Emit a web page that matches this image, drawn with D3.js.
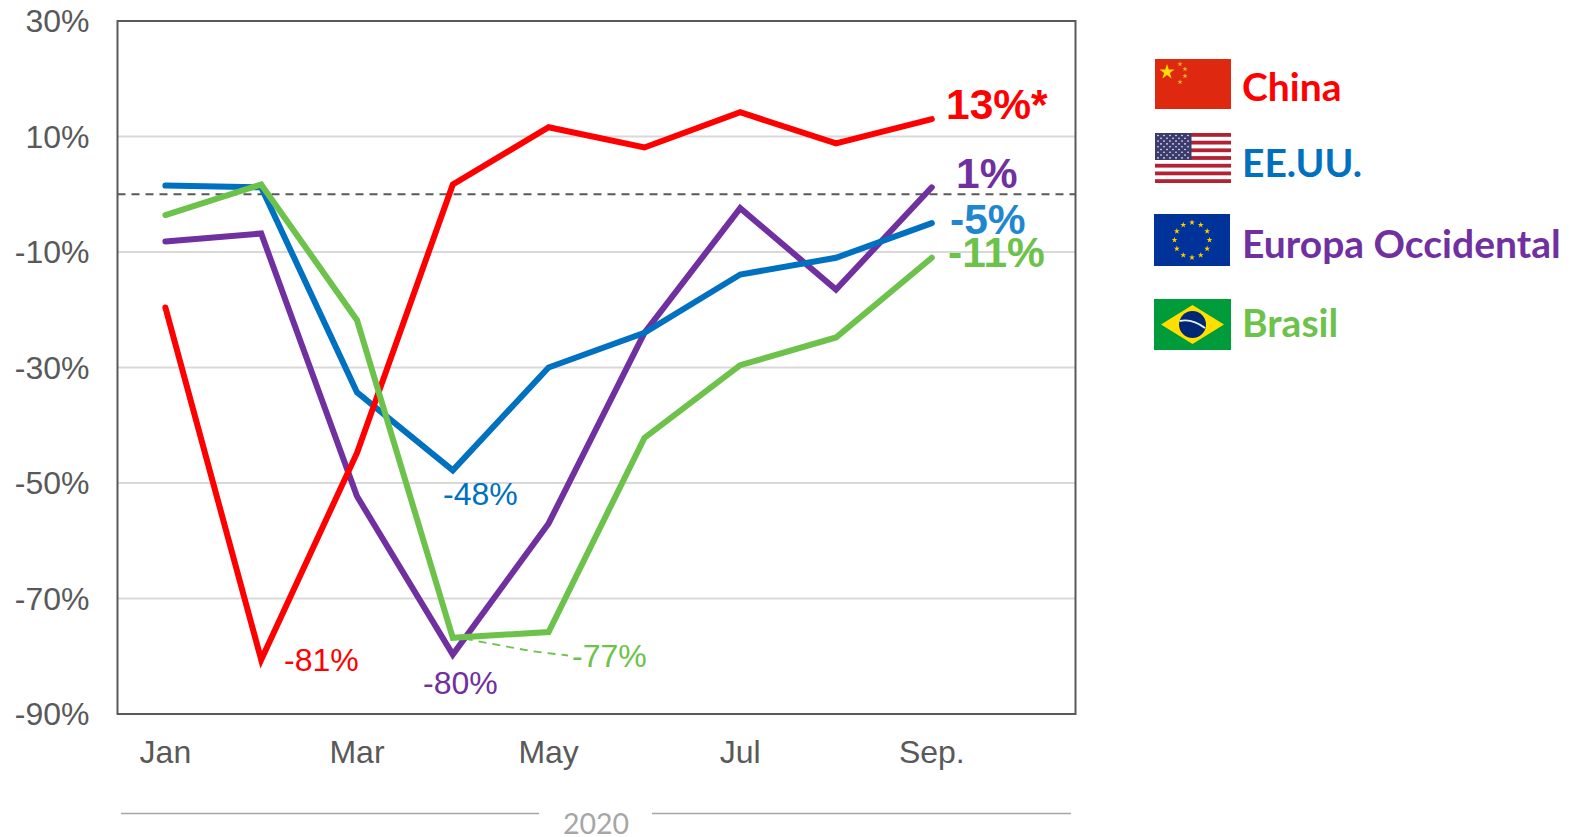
<!DOCTYPE html>
<html><head><meta charset="utf-8">
<script src="https://cdn.jsdelivr.net/npm/d3@7/dist/d3.min.js"></script>
<style>html,body{margin:0;padding:0;background:#fff;overflow:hidden}svg{display:block}</style>
</head><body><svg id="c" width="1570" height="837"></svg>
<script>
const months = ["Jan","Feb","Mar","Apr","May","Jun","Jul","Aug","Sep"];
const slots = [...months, "Oct"];
const monthTicks = ["Jan","Mar","May","Jul","Sep"];
const monthTickLabels = {Jan:"Jan",Mar:"Mar",May:"May",Jul:"Jul",Sep:"Sep."};
const yTicks = [30,10,-10,-30,-50,-70,-90];

const china  = [-19.6,-80.6,-44.8,1.7,11.6,8.1,14.2,8.8,13];
const usa    = [1.5,1.2,-34.3,-47.8,-30,-24,-13.9,-11,-5];
const europe = [-8.2,-6.8,-52.3,-79.7,-57,-24,-2.4,-16.5,1.2];
const brazil = [-3.6,1.7,-21.8,-76.8,-75.8,-42.2,-29.6,-24.8,-11];

const seriesNames = ["Europa Occidental","EE.UU.","China","Brasil"];
const seriesValues = [europe,usa,china,brazil];
const seriesColors = ["#7030a0","#0070c0","#ff0000","#6cc24a"];
const legendNames = ["China","EE.UU.","Europa Occidental","Brasil"];
const legendColors = ["#ff0000","#0070c0","#7030a0","#6cc24a"];

const svg = d3.select("#c");
const L=117.5,R=1075.5,T=21,B=714;
const x = d3.scaleBand().domain(slots).range([L,R]);
const cx = m => x(m)+x.bandwidth()/2;
const y = d3.scaleLinear().domain([-90,30]).range([B,T]);
const sans = "'Liberation Sans',Arial,sans-serif";

// grid
svg.append("g").selectAll("line").data(yTicks.filter(t=>t>-90&&t<30)).join("line")
  .attr("x1",L).attr("x2",R).attr("y1",d=>y(d)).attr("y2",d=>y(d))
  .attr("stroke","#d9d9d9").attr("stroke-width",2);
svg.append("line").attr("x1",L).attr("x2",R).attr("y1",y(0)).attr("y2",y(0))
  .attr("stroke","#595959").attr("stroke-width",2).attr("stroke-dasharray","8,6");

// axes
const ya = svg.append("g").attr("transform",`translate(${L},0)`)
  .call(d3.axisLeft(y).tickValues(yTicks).tickSize(0).tickPadding(28).tickFormat(d=>d+"%"));
ya.select(".domain").remove();
ya.selectAll("text").attr("font-family",sans).attr("font-size",32).attr("fill","#595959").attr("dy",10.5);
const xa = svg.append("g").attr("transform",`translate(0,${B})`)
  .call(d3.axisBottom(x).tickValues(monthTicks).tickSize(0).tickPadding(0).tickFormat(d=>monthTickLabels[d]));
xa.select(".domain").remove();
xa.selectAll("text").attr("font-family",sans).attr("font-size",32).attr("fill","#595959").attr("y",49).attr("dy",0);

// frame
svg.append("rect").attr("x",L).attr("y",T).attr("width",R-L).attr("height",B-T)
  .attr("fill","none").attr("stroke","#595959").attr("stroke-width",2);

// lines
const line = d3.line().x((d,i)=>cx(months[i])).y(d=>y(d));
svg.append("g").selectAll("path").data(seriesValues).join("path")
  .attr("d",line).attr("fill","none").attr("stroke",(d,i)=>seriesColors[i])
  .attr("stroke-width",6).attr("stroke-linecap","round").attr("stroke-linejoin","miter");

// leader
svg.append("path").attr("d",`M${cx("Apr")+12},${y(-76.8)+1}L${cx("May")-18},651L568,655.5`)
  .attr("fill","none").attr("stroke","#6cc24a").attr("stroke-width",1.8).attr("stroke-dasharray","8,6");

// small labels
const smallLabels = ["-81%","-48%","-80%","-77%"];
const smallColors = ["#ff0000","#0070c0","#7030a0","#6cc24a"];
const smallPos = [[284,671],[443,505],[423,694],[572,667]];
svg.append("g").selectAll("text").data(smallLabels).join("text").text(d=>d)
  .attr("x",(d,i)=>smallPos[i][0]).attr("y",(d,i)=>smallPos[i][1])
  .attr("font-family",sans).attr("font-size",32).attr("fill",(d,i)=>smallColors[i]);

// end labels
const endLabels = ["13%*","1%","-5%","-11%"];
const endColors = ["#ff0000","#7030a0","#1f86d0","#6cc24a"];
const endPos = [[946,119],[956,188],[950,234],[948,267]];
svg.append("g").selectAll("text").data(endLabels).join("text").text(d=>d)
  .attr("x",(d,i)=>endPos[i][0]).attr("y",(d,i)=>endPos[i][1])
  .attr("font-family",sans).attr("font-weight","bold").attr("font-size",42.5).attr("fill",(d,i)=>endColors[i]);

// 2020 bracket
svg.append("line").attr("x1",121).attr("x2",539).attr("y1",813.5).attr("y2",813.5).attr("stroke","#a6a6a6").attr("stroke-width",1.5);
svg.append("line").attr("x1",652).attr("x2",1071).attr("y1",813.5).attr("y2",813.5).attr("stroke","#a6a6a6").attr("stroke-width",1.5);
svg.append("text").text("2020").attr("x",596).attr("y",833.5).attr("text-anchor","middle")
  .attr("font-family","Lato,sans-serif").attr("font-size",28.5).attr("fill","#a6a6a6");

// legend
const legendY = [101,177,258,337];
svg.append("g").selectAll("text").data(legendNames).join("text").text(d=>d)
  .attr("x",1242).attr("y",(d,i)=>legendY[i])
  .attr("font-family","Lato,sans-serif").attr("font-weight","bold").attr("font-size",39)
  .attr("fill",(d,i)=>legendColors[i]);

// flags
function star(g,px,py,size,fill){
  g.append("path").attr("d",d3.symbol(d3.symbolStar,size)()).attr("fill",fill)
   .attr("transform",`translate(${px},${py})`);
}
// China
{const g=svg.append("g").attr("transform","translate(1155,59)");
 g.append("rect").attr("width",76).attr("height",50).attr("fill","#de2910");
 star(g,12,13,70,"#ffde00");
 [[25,5],[30,10],[30,17],[25,23]].forEach(p=>star(g,p[0],p[1],9,"#e8b830"));}
// USA
{const g=svg.append("g").attr("transform","translate(1155,133)");
 g.append("rect").attr("width",76).attr("height",50).attr("fill","#fff");
 d3.range(7).forEach(i=>g.append("rect").attr("y",i*7.7).attr("width",76).attr("height",3.8).attr("fill","#b22234"));
 g.append("rect").attr("width",36.5).attr("height",27).attr("fill","#3c3b6e");
 d3.range(9).forEach(r=>d3.range(r%2?5:6).forEach(c=>g.append("circle")
   .attr("cx",(r%2?6:3)+c*6).attr("cy",2.5+r*2.8).attr("r",0.8).attr("fill","#fff")));}
// EU
{const g=svg.append("g").attr("transform","translate(1154,214)");
 g.append("rect").attr("width",76).attr("height",52).attr("fill","#003399");
 d3.range(12).forEach(i=>{const a=i*Math.PI/6;
   star(g,38+17.5*Math.sin(a),26-17.5*Math.cos(a),11,"#ffcc00");});}
// Brazil
{const g=svg.append("g").attr("transform","translate(1154,299)");
 g.append("rect").attr("width",77).attr("height",51).attr("fill","#009c3b");
 g.append("path").attr("d","M7,25.5L38.5,6L70,25.5L38.5,45Z").attr("fill","#ffdf00");
 g.append("circle").attr("cx",38.5).attr("cy",25.5).attr("r",13.5).attr("fill","#002776");
 g.append("path").attr("d","M25.5,22Q38,19 51,29").attr("fill","none").attr("stroke","#e8eef0").attr("stroke-width",1.8);}
</script></body></html>
